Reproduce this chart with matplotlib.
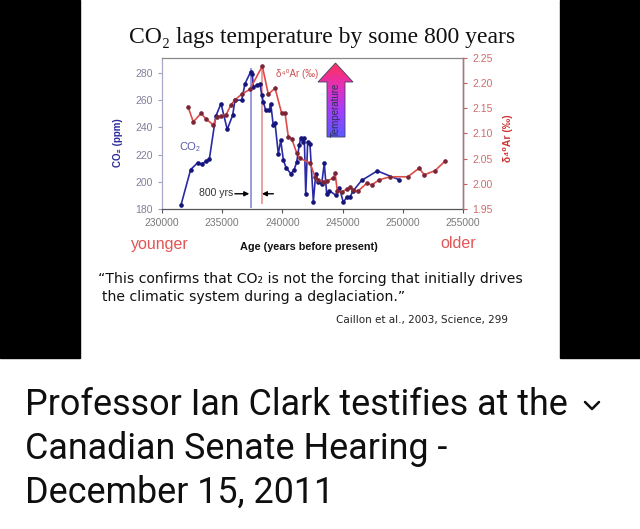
import numpy as np
import matplotlib.pyplot as plt
from matplotlib.patches import Rectangle, Polygon
from matplotlib.colors import LinearSegmentedColormap

# CO2 (ppm) vs age
co2_age = [231580, 232380, 232960, 233300, 233650, 233930, 234460, 234900, 235420, 235870,
           236060, 236620, 236890, 237370, 237500, 237580, 237920, 238140, 238280, 238410,
           238610, 238890, 239030, 239240, 239390, 239660, 239860, 240080, 240300, 240690,
           240960, 241190, 241400, 241520, 241690, 241820, 241940, 242100, 242290, 242570,
           242770, 242980, 243260, 243480, 243680, 243900, 244450, 244730, 245060, 245340,
           245620, 245890, 246580, 247880, 249700]
co2_ppm = [183, 209, 214, 213, 215, 216.5, 248, 257.5, 238.5, 249,
           260, 260, 272, 281, 279.5, 270, 271, 272, 264, 259,
           252.5, 252.5, 257.5, 241.5, 243, 220.5, 230.5, 216, 210.5, 206,
           208.5, 214.5, 227, 232, 229.5, 232, 191, 229.5, 227.5, 185.5,
           206, 200, 198.5, 213.5, 191, 193.5, 190, 195.5, 185, 188.5,
           189, 193.5, 201, 208, 201.5]

# d40Ar (permil) vs age
ar_age = [232180, 232600, 233240, 233650, 234260, 234540, 234900, 235320, 235730, 236060,
          236620, 237310, 238330, 238830, 239390, 239940, 240220, 240490, 240770, 241190,
          241460, 242290, 242710, 242980, 243350, 243680, 244230, 244370, 244560, 244920,
          245340, 245610, 245890, 246300, 247000, 247420, 248050, 248940, 250410, 251350,
          251790, 252670, 253500]
ar_val = [2.152, 2.123, 2.140, 2.129, 2.117, 2.133, 2.135, 2.137, 2.157, 2.167,
          2.178, 2.188, 2.234, 2.178, 2.190, 2.140, 2.140, 2.094, 2.090, 2.061,
          2.051, 2.041, 2.014, 2.008, 2.004, 2.006, 2.011, 2.022, 1.986, 1.984,
          1.989, 1.993, 1.988, 1.986, 2.001, 1.998, 2.008, 2.014, 2.014, 2.031,
          2.018, 2.026, 2.045]

x_ticks = [230000, 235000, 240000, 245000, 250000, 255000]
co2_ticks = [180, 200, 220, 240, 260, 280]
ar_ticks = [1.95, 2.00, 2.05, 2.10, 2.15, 2.20, 2.25]

co2_peak_age = 237390
ar_peak_age = 238280

W, H = 640, 529
fig = plt.figure(figsize=(W / 100, H / 100), dpi=100)
fig.patch.set_facecolor('white')

# black side bars of the video frame
fig.patches.append(Rectangle((0, 1 - 358 / H), 80 / W, 358 / H, transform=fig.transFigure,
                             color='black', zorder=0))
fig.patches.append(Rectangle((560 / W, 1 - 358 / H), 80 / W, 358 / H, transform=fig.transFigure,
                             color='black', zorder=0))

def box(x0, y0, x1, y1):
    return [x0 / W, 1 - y1 / H, (x1 - x0) / W, (y1 - y0) / H]

ax = fig.add_axes(box(162, 58, 463, 209))
ax.set_facecolor('white')
ax2 = ax.twinx()

blue = '#2a2aa6'
red = '#de4b4b'

ax.plot(co2_age, co2_ppm, color=blue, lw=1.2, marker='o', ms=2.3,
        mfc='#15157a', mec='#15157a', zorder=3)
ax2.plot(ar_age, ar_val, color=red, lw=1.2, marker='o', ms=2.3,
         mfc='#7a2535', mec='#7a2535', zorder=3)

ax.vlines(co2_peak_age, 181, 283.5, color='#8a8ad8', lw=1.2, zorder=2)
ax.vlines(ar_peak_age, 184, 285, color='#e89090', lw=1.2, zorder=2)

ax.set_xlim(230000, 255000)
ax.set_ylim(180, 291)
ax2.set_ylim(1.95, 2.25)
ax.set_xticks(x_ticks)
ax.set_yticks(co2_ticks)
ax2.set_yticks(ar_ticks)
ax.set_xticklabels([str(t) for t in x_ticks])
ax2.set_yticklabels(['%.2f' % t for t in ar_ticks])

ax.tick_params(axis='x', colors='#555555', labelcolor='#7a7a7a', labelsize=7.5, length=3, width=0.8)
ax.tick_params(axis='y', colors='#a0a0c0', labelcolor='#7f7f9a', labelsize=7.5, length=3, width=0.8)
ax2.tick_params(axis='y', colors='#c06060', labelcolor='#cf6b6b', labelsize=7.5, length=3, width=0.8)
for a in (ax, ax2):
    for lab in a.get_xticklabels() + a.get_yticklabels():
        lab.set_family('Liberation Sans')
ax.spines['left'].set_color('#a8a8c8')
ax.spines['bottom'].set_color('#555555')
ax.spines['top'].set_color('#888888')
ax2.spines['right'].set_color('#c86a6a')
ax2.spines['left'].set_visible(False)
ax2.spines['top'].set_visible(False)
ax2.spines['bottom'].set_visible(False)
for s in ax.spines.values():
    s.set_linewidth(0.9)
ax2.spines['right'].set_linewidth(0.9)

# 800 yrs arrows
arr = dict(arrowstyle='-|>', color='black', lw=1.0, mutation_scale=7, shrinkA=0, shrinkB=0)
ax.annotate('', xy=(237250, 191.2), xytext=(236050, 191.2), arrowprops=arr)
ax.annotate('', xy=(238300, 191.2), xytext=(239250, 191.2), arrowprops=arr)

# overlay in pixel coords for annotations
ov = fig.add_axes([0, 0, 1, 1], zorder=5)
ov.axis('off')
ov.patch.set_alpha(0)

sans = ['Liberation Sans', 'DejaVu Sans']

ov.text(322, 37, 'CO\u2082 lags temperature by some 800 years', family=['Liberation Serif', 'DejaVu Serif'],
        fontsize=17, ha='center', va='center', color='#111111')
ov.text(216, 193, '800 yrs', family=sans, fontsize=7.5, ha='center', va='center',
        color='#333333')
ov.text(190, 147, 'CO\u2082', family=sans, fontsize=8, ha='center', va='center',
        color='#5a5aa8')
ov.text(297, 74, '\u03b4\u2074\u2070Ar (\u2030)', family=sans, fontsize=7, ha='center',
        va='center', color='#d05050')
ov.text(118, 143, 'CO\u2082 (ppm)', family=sans, fontsize=7, fontweight='bold',
        rotation=90, ha='center', va='center', color='#2a2a9a')
ov.text(508, 138, '\u03b4\u2074\u2070Ar (\u2030)', family=sans, fontsize=7.5,
        fontweight='bold', rotation=90, ha='center', va='center', color='#d03535')

# temperature arrow with gradient
arrow_xy = [(327, 137), (327, 82), (318, 82), (335.5, 63), (353, 82), (345, 82), (345, 137)]
poly = Polygon(arrow_xy, closed=True, facecolor='none', edgecolor='#404060', lw=0.6, zorder=6)
ov.add_patch(poly)
grad = np.linspace(0, 1, 100).reshape(-1, 1)
cmap = LinearSegmentedColormap.from_list('temp', ['#ff2f5a', '#e030c0', '#a040ff', '#5a5aff'])
im = ov.imshow(grad, cmap=cmap, extent=(318, 353, 137, 63), aspect='auto', zorder=5)
im.set_clip_path(poly)
ov.text(336, 110, 'Temperature', family=sans, fontsize=7, rotation=90,
        ha='center', va='center', color='#303050', zorder=7)
ov.set_xlim(0, W)
ov.set_ylim(H, 0)

ov.text(160, 244, 'younger', family=sans, fontsize=11.5, ha='center', va='center',
        color='#e05555')
ov.text(458, 244, 'older', family=sans, fontsize=11.5, ha='center', va='center',
        color='#e05555')
ov.text(309, 247, 'Age (years before present)', family=sans, fontsize=7.8,
        fontweight='bold', ha='center', va='center', color='#111111')

ov.text(98, 279, '\u201cThis confirms that CO\u2082 is not the forcing that initially drives',
        family='DejaVu Sans', fontsize=10.1, ha='left', va='center', color='#111111')
ov.text(102, 297, 'the climatic system during a deglaciation.\u201d',
        family='DejaVu Sans', fontsize=10.1, ha='left', va='center', color='#111111')
ov.text(336, 320, 'Caillon et al., 2003, Science, 299', family='DejaVu Sans', fontsize=7.45,
        ha='left', va='center', color='#222222')

ov.text(25, 405, 'Professor Ian Clark testifies at the', family='Roboto', fontsize=25.8,
        ha='left', va='center', color='#0f0f0f')
ov.text(25, 449, 'Canadian Senate Hearing -', family='Roboto', fontsize=25.8,
        ha='left', va='center', color='#0f0f0f')
ov.text(25, 493, 'December 15, 2011', family='Roboto', fontsize=25.8,
        ha='left', va='center', color='#0f0f0f')
ov.plot([585, 592, 599], [402, 409, 402], color='#0f0f0f', lw=1.8, solid_capstyle='round')

fig.savefig('out.png', dpi=100)
